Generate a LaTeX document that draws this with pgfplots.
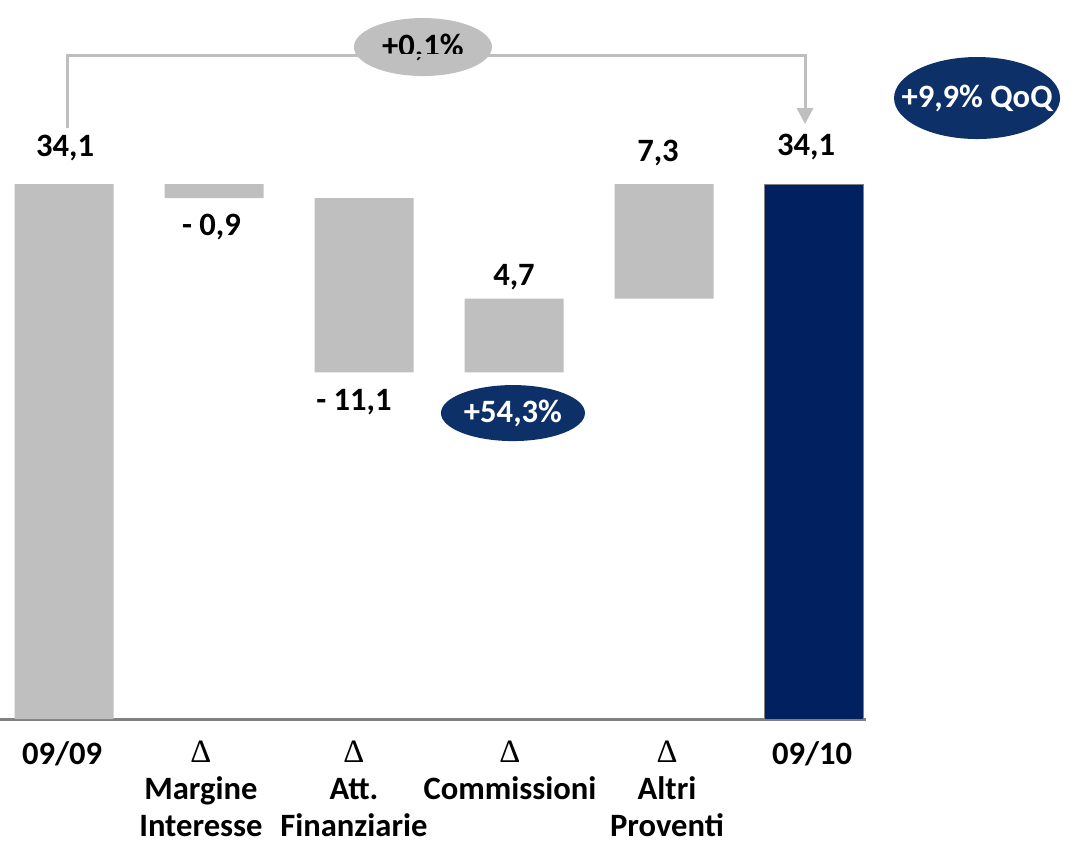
\documentclass[border=0pt]{standalone}
\usepackage{fontspec}
\setmainfont{Carlito}
\newfontfamily\dserif{Liberation Serif}
\usepackage{pgfplots}
\pgfplotsset{compat=1.18}
\usetikzlibrary{shapes.geometric,arrows.meta}
\definecolor{bargray}{HTML}{BFBFBF}
\definecolor{navy}{HTML}{002060}
\definecolor{ellnavy}{HTML}{0E3069}
\definecolor{axisgray}{HTML}{808080}
\newcommand\lbl{\bfseries\fontsize{16.3}{18.3}\selectfont}
\newcommand\D{{\dserif\mdseries Δ}}
\begin{document}
\begin{tikzpicture}[x=1pt,y=1pt]
\begin{axis}[
  at={(0pt,62pt)}, anchor=south west, scale only axis,
  width=433pt, height=267.5pt,
  xmin=-0.42667, xmax=5.34667, ymin=0, ymax=34.1,
  axis line style={draw=none},
  ytick=\empty,
  xtick={-0.013,0.913,1.933,2.973,4.02,4.987},
  xticklabels={{09/09},{\D\\Margine\\Interesse},{\D\\Att.\\Finanziarie},{\D\\Commissioni},{\D\\Altri\\Proventi},{09/10}},
  major tick length=0pt,
  xticklabel style={font=\lbl, align=center, anchor=north, inner sep=0pt, yshift=-11pt},
  ybar stacked, bar width=49.5pt,
  clip=false,
]
% bottom: final bar (navy), zero elsewhere
\addplot[fill=navy, draw=axisgray, line width=0.5pt] coordinates {(0,0) (1,0) (2,0) (3,0) (4,0) (5,34.1)};
% invisible base of the floating bars
\addplot[fill=none, draw=none] coordinates {(0,0) (1,33.2) (2,22.1) (3,22.1) (4,26.8) (5,0)};
% visible steps
\addplot[fill=bargray, draw=none] coordinates {(0,34.1) (1,0.9) (2,11.1) (3,4.7) (4,7.3) (5,0)};

\draw[axisgray, line width=1.5pt] (axis cs:-0.42667,0) -- (axis cs:5.34667,0);

\node[font=\lbl] at (axis cs:0.007,36.4) {34,1};
\node[font=\lbl] at (axis cs:0.983,31.36) {- 0,9};
\node[font=\lbl] at (axis cs:1.933,20.2) {- 11,1};
\node[font=\lbl] at (axis cs:3.0,28.17) {4,7};
\node[font=\lbl] at (axis cs:3.96,36.07) {7,3};
\node[font=\lbl] at (axis cs:4.947,36.46) {34,1};

\draw[bargray, line width=1.5pt, -{Triangle[width=8pt,length=8pt]}]
  (axis cs:0.02,37.67) |- (axis cs:4.94,42.32) -- (axis cs:4.94,37.92);

\node[ellipse, fill=bargray, inner sep=0pt, minimum width=69pt, minimum height=29pt, font=\lbl]
  at (axis cs:2.393,42.83) {\makebox[0pt]{+0,1\%}};
\node[ellipse, fill=ellnavy, text=white, inner sep=0pt, minimum width=72pt, minimum height=28pt, font=\lbl]
  at (axis cs:2.993,19.5) {\makebox[0pt]{+54,3\%}};
\node[ellipse, fill=ellnavy, text=white, inner sep=0pt, minimum width=83pt, minimum height=41pt, font=\lbl]
  at (axis cs:6.087,39.58) {\makebox[0pt]{+9,9\% QoQ}};
\end{axis}
\pgfresetboundingbox
\path[use as bounding box] (0,0) rectangle (541.5,421.5);
\end{tikzpicture}
\end{document}
